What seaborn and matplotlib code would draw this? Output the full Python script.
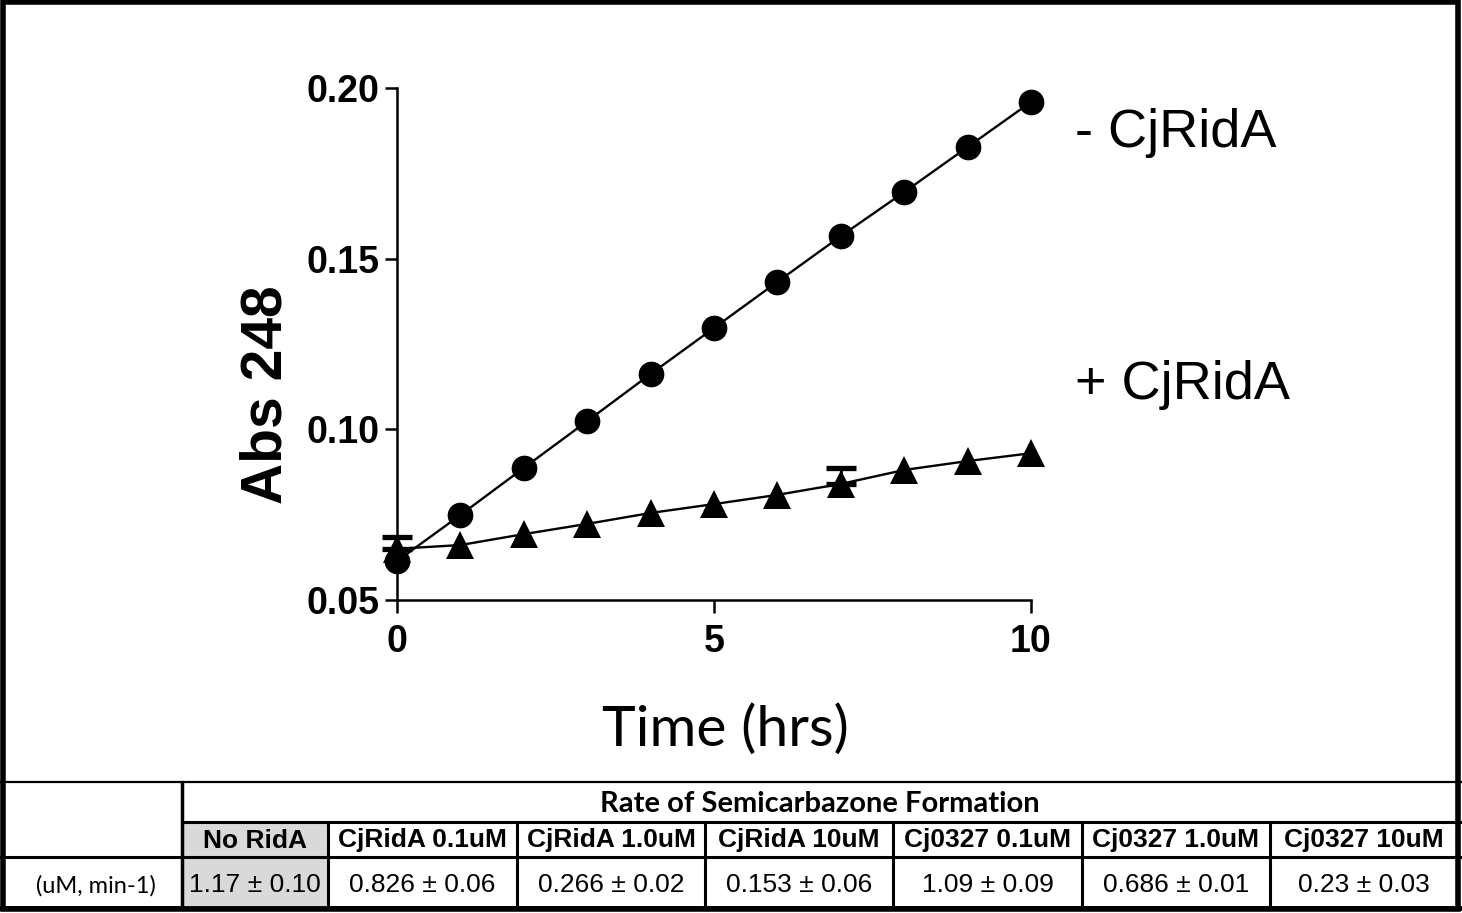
import matplotlib
matplotlib.use("Agg")
import matplotlib.pyplot as plt
import seaborn as sns
import numpy as np
import pandas as pd
from matplotlib.lines import Line2D
from matplotlib.patches import Rectangle

# ---------------- data ----------------
time_hrs = [0, 1, 2, 3, 4, 5, 6, 7, 8, 9, 10]
minus_cjrida = [0.0614, 0.0749, 0.0887, 0.1024, 0.1162, 0.1297, 0.1432, 0.1566, 0.1695, 0.1827, 0.1959]
plus_cjrida = [0.0650, 0.0661, 0.0693, 0.0723, 0.0755, 0.0781, 0.0808, 0.0840, 0.0881, 0.0907, 0.0930]
plus_cjrida_err = [0.0035, 0, 0, 0, 0, 0, 0, 0.0047, 0, 0, 0]
y_ticks = [0.05, 0.10, 0.15, 0.20]
y_tick_labels = ["0.05", "0.10", "0.15", "0.20"]
x_ticks = [0, 5, 10]
series_labels = ["- CjRidA", "+ CjRidA"]

table_title = "Rate of Semicarbazone Formation"
table_row_label = "(uM, min-1)"
table_columns = ["No RidA", "CjRidA 0.1uM", "CjRidA 1.0uM", "CjRidA 10uM",
                 "Cj0327 0.1uM", "Cj0327 1.0uM", "Cj0327 10uM"]
table_values = ["1.17 ± 0.10", "0.826 ± 0.06", "0.266 ± 0.02", "0.153 ± 0.06",
                "1.09 ± 0.09", "0.686 ± 0.01", "0.23 ± 0.03"]

# ---------------- style ----------------
sns.set_style("ticks")
plt.rcParams["font.family"] = ["Liberation Sans", "DejaVu Sans"]
plt.rcParams["text.color"] = "black"
plt.rcParams["xtick.color"] = "black"
plt.rcParams["ytick.color"] = "black"
plt.rcParams["axes.labelcolor"] = "black"

W, H = 1462, 913
fig = plt.figure(figsize=(W / 100, H / 100), dpi=100)

# main axes (pixel layout: x 397..1031, y 88..600)
ax = fig.add_axes([397 / W, 1 - 600 / H, (1031 - 397) / W, (600 - 88) / H])

df = pd.DataFrame({"time": time_hrs, "minus": minus_cjrida, "plus": plus_cjrida,
                   "err": plus_cjrida_err})
err_df = df[df["err"] > 0]

ax.errorbar(err_df["time"], err_df["plus"],
            yerr=[np.zeros(len(err_df)), err_df["err"].to_numpy()],
            fmt="none", ecolor="black", elinewidth=2, capsize=11, capthick=3.8,
            zorder=2, clip_on=False)
sns.lineplot(data=df, x="time", y="plus", ax=ax, color="black", linewidth=1.7,
             marker="^", markersize=20, markeredgewidth=0, zorder=3, clip_on=False)
sns.lineplot(data=df, x="time", y="minus", ax=ax, color="black", linewidth=1.7,
             marker="o", markersize=18.5, markeredgewidth=0, zorder=4, clip_on=False)

ax.set_xlim(0, 10)
ax.set_ylim(0.05, 0.20)
ax.set_xticks(x_ticks)
ax.set_xticklabels([str(t) for t in x_ticks])
ax.set_yticks(y_ticks)
ax.set_yticklabels(y_tick_labels)
for side in ["top", "right"]:
    ax.spines[side].set_visible(False)
for side in ["left", "bottom"]:
    ax.spines[side].set_linewidth(1.8)
    ax.spines[side].set_color("black")
ax.tick_params(axis="both", direction="out", length=9, width=1.8, colors="black")
ax.tick_params(axis="y", pad=3.5)
ax.tick_params(axis="x", pad=8)
for lab in ax.get_xticklabels() + ax.get_yticklabels():
    lab.set_fontsize(27)
    lab.set_fontweight("bold")
    lab.set_color("black")
ax.set_xlabel("")
ax.set_ylabel("")
ax.set_facecolor("none")

# overlay axes in pixel coordinates for labels, frame and table
ov = fig.add_axes([0, 0, 1, 1], zorder=-1)
ov.set_xlim(0, W)
ov.set_ylim(H, 0)
ov.axis("off")

ov.text(267, 395, "Abs 248", rotation=90, ha="center", va="center",
        fontsize=41, fontweight="bold", color="black")
ov.text(725, 730, "Time (hrs)", ha="center", va="center", fontsize=41,
        family=["Lato", "DejaVu Sans"], color="black")
ov.text(1075, 133, series_labels[0], ha="left", va="center", fontsize=39, color="black")
ov.text(1075, 385, series_labels[1], ha="left", va="center", fontsize=39, color="black")

# outer frame
ov.add_patch(Rectangle((2.5, 2.5), W - 7, H - 6, fill=False, lw=4, ec="black"))

# table
col_edges = [182, 328, 517, 705, 893, 1082, 1270, 1457]
y_top, y_hdr, y_col, y_bot = 782, 822, 857, 908

ov.add_patch(Rectangle((col_edges[0], y_hdr), col_edges[1] - col_edges[0], y_bot - y_hdr,
                       fc="#d9d9d9", ec="none"))
ov.add_line(Line2D([0, W], [y_top, y_top], color="black", lw=1.6))
ov.add_line(Line2D([col_edges[0], W], [y_hdr, y_hdr], color="black", lw=2.2))
ov.add_line(Line2D([0, W], [y_col, y_col], color="black", lw=2.2))
ov.add_line(Line2D([0, W], [y_bot, y_bot], color="black", lw=3.5))
ov.add_line(Line2D([col_edges[0], col_edges[0]], [y_top, y_bot], color="black", lw=2.5))
for xe in col_edges[1:-1]:
    ov.add_line(Line2D([xe, xe], [y_hdr, y_bot], color="black", lw=2.2))

ov.text((col_edges[0] + col_edges[-1]) / 2, (y_top + y_hdr) / 2 + 2, table_title,
        ha="center", va="center", fontsize=21, fontweight="bold",
        family=["Lato", "DejaVu Sans"], color="black")
for i, (cname, val) in enumerate(zip(table_columns, table_values)):
    cx = (col_edges[i] + col_edges[i + 1]) / 2
    ov.text(cx, (y_hdr + y_col) / 2 + 1, cname, ha="center", va="center",
            fontsize=19, fontweight="bold", color="black")
    ov.text(cx, (y_col + y_bot) / 2 + 2, val, ha="center", va="center", fontsize=19,
            color="black")
ov.text(96, (y_col + y_bot) / 2 + 3, table_row_label, ha="center", va="center",
        fontsize=17, family=["Lato", "DejaVu Sans"], color="black")

fig.savefig("out.png", dpi=100, facecolor="white")
